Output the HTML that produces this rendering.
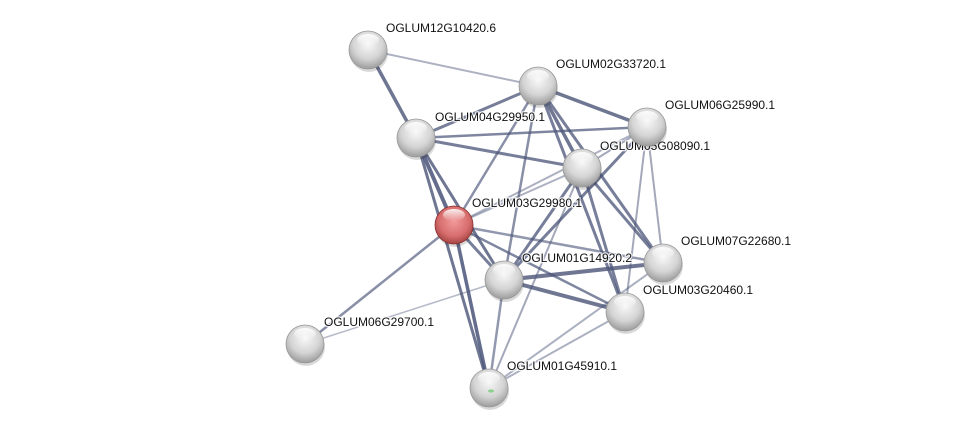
<!DOCTYPE html>
<html><head><meta charset="utf-8"><style>
body{margin:0;background:#fff;width:976px;height:433px;overflow:hidden}
svg text{font-family:"Liberation Sans",sans-serif;font-size:12px;fill:#111;stroke:#fff;stroke-width:2.5px;stroke-opacity:0.8;paint-order:stroke}
</style></head><body>
<svg width="976" height="433" viewBox="0 0 976 433">
<defs>
<radialGradient id="g" cx="50%" cy="35%" r="65%"><stop offset="0" stop-color="#f8f8f8"/><stop offset="0.6" stop-color="#d4d4d4"/><stop offset="1" stop-color="#9c9c9c"/></radialGradient>
<radialGradient id="r" cx="50%" cy="40%" r="65%"><stop offset="0" stop-color="#f29a9a"/><stop offset="0.6" stop-color="#d86e6e"/><stop offset="1" stop-color="#9a3a3a"/></radialGradient>
<linearGradient id="h" x1="0" y1="0" x2="0" y2="1"><stop offset="0" stop-color="#fff" stop-opacity="0.9"/><stop offset="1" stop-color="#fff" stop-opacity="0"/></linearGradient>
</defs>
<g stroke="#4a5478" stroke-linecap="round">
<line x1="368" y1="50" x2="538" y2="86" stroke-width="2" opacity="0.45"/>
<line x1="368" y1="50" x2="416" y2="138" stroke-width="3.5" opacity="0.8"/>
<line x1="416" y1="138" x2="538" y2="86" stroke-width="3" opacity="0.75"/>
<line x1="416" y1="138" x2="647" y2="127" stroke-width="2.5" opacity="0.7"/>
<line x1="416" y1="138" x2="582" y2="168" stroke-width="3" opacity="0.75"/>
<line x1="416" y1="138" x2="454" y2="225" stroke-width="4" opacity="0.85"/>
<line x1="416" y1="138" x2="504" y2="280" stroke-width="3" opacity="0.8"/>
<line x1="416" y1="138" x2="489" y2="388" stroke-width="3" opacity="0.8"/>
<line x1="538" y1="86" x2="647" y2="127" stroke-width="3.5" opacity="0.8"/>
<line x1="538" y1="86" x2="582" y2="168" stroke-width="3.5" opacity="0.8"/>
<line x1="538" y1="86" x2="454" y2="225" stroke-width="2.5" opacity="0.65"/>
<line x1="538" y1="86" x2="504" y2="280" stroke-width="2.5" opacity="0.65"/>
<line x1="538" y1="86" x2="625" y2="312" stroke-width="3" opacity="0.75"/>
<line x1="538" y1="86" x2="663" y2="263" stroke-width="3" opacity="0.75"/>
<line x1="647" y1="127" x2="582" y2="168" stroke-width="2" opacity="0.5"/>
<line x1="647" y1="127" x2="454" y2="225" stroke-width="2" opacity="0.45"/>
<line x1="647" y1="127" x2="504" y2="280" stroke-width="3" opacity="0.75"/>
<line x1="647" y1="127" x2="663" y2="263" stroke-width="2" opacity="0.5"/>
<line x1="647" y1="127" x2="625" y2="312" stroke-width="2" opacity="0.5"/>
<line x1="582" y1="168" x2="454" y2="225" stroke-width="2" opacity="0.45"/>
<line x1="582" y1="168" x2="504" y2="280" stroke-width="3" opacity="0.75"/>
<line x1="582" y1="168" x2="663" y2="263" stroke-width="3" opacity="0.75"/>
<line x1="582" y1="168" x2="625" y2="312" stroke-width="3" opacity="0.75"/>
<line x1="582" y1="168" x2="489" y2="388" stroke-width="2" opacity="0.5"/>
<line x1="454" y1="225" x2="663" y2="263" stroke-width="2.5" opacity="0.6"/>
<line x1="454" y1="225" x2="504" y2="280" stroke-width="3" opacity="0.75"/>
<line x1="454" y1="225" x2="625" y2="312" stroke-width="2.5" opacity="0.7"/>
<line x1="454" y1="225" x2="305" y2="344" stroke-width="2.5" opacity="0.65"/>
<line x1="454" y1="225" x2="489" y2="388" stroke-width="3.5" opacity="0.85"/>
<line x1="504" y1="280" x2="663" y2="263" stroke-width="4" opacity="0.8"/>
<line x1="504" y1="280" x2="625" y2="312" stroke-width="4" opacity="0.8"/>
<line x1="504" y1="280" x2="305" y2="344" stroke-width="1.5" opacity="0.4"/>
<line x1="504" y1="280" x2="489" y2="388" stroke-width="2.5" opacity="0.6"/>
<line x1="625" y1="312" x2="489" y2="388" stroke-width="2" opacity="0.45"/>
<line x1="663" y1="263" x2="489" y2="388" stroke-width="2" opacity="0.45"/>
</g>
<g>
<text x="386" y="32">OGLUM12G10420.6</text>
<text x="556" y="68">OGLUM02G33720.1</text>
<text x="435" y="121">OGLUM04G29950.1</text>
<text x="665" y="109">OGLUM06G25990.1</text>
<text x="600" y="150">OGLUM05G08090.1</text>
<text x="472" y="207">OGLUM03G29980.1</text>
<text x="681" y="245">OGLUM07G22680.1</text>
<text x="522" y="262">OGLUM01G14920.2</text>
<text x="643" y="294">OGLUM03G20460.1</text>
<text x="324" y="326">OGLUM06G29700.1</text>
<text x="507" y="370">OGLUM01G45910.1</text>
</g>
<g>
<g transform="translate(368,50)"><ellipse cx="1" cy="3" rx="19" ry="19" fill="#000" opacity="0.15"/><circle r="19" fill="url(#g)" stroke="#999" stroke-width="0.8"/><ellipse cy="-10" rx="11" ry="6" fill="url(#h)"/></g>
<g transform="translate(538,86)"><ellipse cx="1" cy="3" rx="19" ry="19" fill="#000" opacity="0.15"/><circle r="19" fill="url(#g)" stroke="#999" stroke-width="0.8"/><ellipse cy="-10" rx="11" ry="6" fill="url(#h)"/></g>
<g transform="translate(416,138)"><ellipse cx="1" cy="3" rx="19" ry="19" fill="#000" opacity="0.15"/><circle r="19" fill="url(#g)" stroke="#999" stroke-width="0.8"/><ellipse cy="-10" rx="11" ry="6" fill="url(#h)"/></g>
<g transform="translate(647,127)"><ellipse cx="1" cy="3" rx="19" ry="19" fill="#000" opacity="0.15"/><circle r="19" fill="url(#g)" stroke="#999" stroke-width="0.8"/><ellipse cy="-10" rx="11" ry="6" fill="url(#h)"/></g>
<g transform="translate(582,168)"><ellipse cx="1" cy="3" rx="19" ry="19" fill="#000" opacity="0.15"/><circle r="19" fill="url(#g)" stroke="#999" stroke-width="0.8"/><ellipse cy="-10" rx="11" ry="6" fill="url(#h)"/></g>
<g transform="translate(454,225)"><ellipse cx="1" cy="3" rx="19" ry="19" fill="#000" opacity="0.15"/><circle r="19" fill="url(#r)" stroke="#8a3030" stroke-width="0.8"/><ellipse cy="-10" rx="11" ry="6" fill="url(#h)"/></g>
<g transform="translate(663,263)"><ellipse cx="1" cy="3" rx="19" ry="19" fill="#000" opacity="0.15"/><circle r="19" fill="url(#g)" stroke="#999" stroke-width="0.8"/><ellipse cy="-10" rx="11" ry="6" fill="url(#h)"/></g>
<g transform="translate(504,280)"><ellipse cx="1" cy="3" rx="19" ry="19" fill="#000" opacity="0.15"/><circle r="19" fill="url(#g)" stroke="#999" stroke-width="0.8"/><ellipse cy="-10" rx="11" ry="6" fill="url(#h)"/></g>
<g transform="translate(625,312)"><ellipse cx="1" cy="3" rx="19" ry="19" fill="#000" opacity="0.15"/><circle r="19" fill="url(#g)" stroke="#999" stroke-width="0.8"/><ellipse cy="-10" rx="11" ry="6" fill="url(#h)"/></g>
<g transform="translate(305,344)"><ellipse cx="1" cy="3" rx="19" ry="19" fill="#000" opacity="0.15"/><circle r="19" fill="url(#g)" stroke="#999" stroke-width="0.8"/><ellipse cy="-10" rx="11" ry="6" fill="url(#h)"/></g>
<g transform="translate(489,388)"><ellipse cx="1" cy="3" rx="19" ry="19" fill="#000" opacity="0.15"/><circle r="19" fill="url(#g)" stroke="#999" stroke-width="0.8"/><ellipse cy="-10" rx="11" ry="6" fill="url(#h)"/><ellipse cx="2" cy="3" rx="3" ry="1.6" fill="#7c7" opacity="0.8"/></g>
</g>
</svg>
</body></html>
